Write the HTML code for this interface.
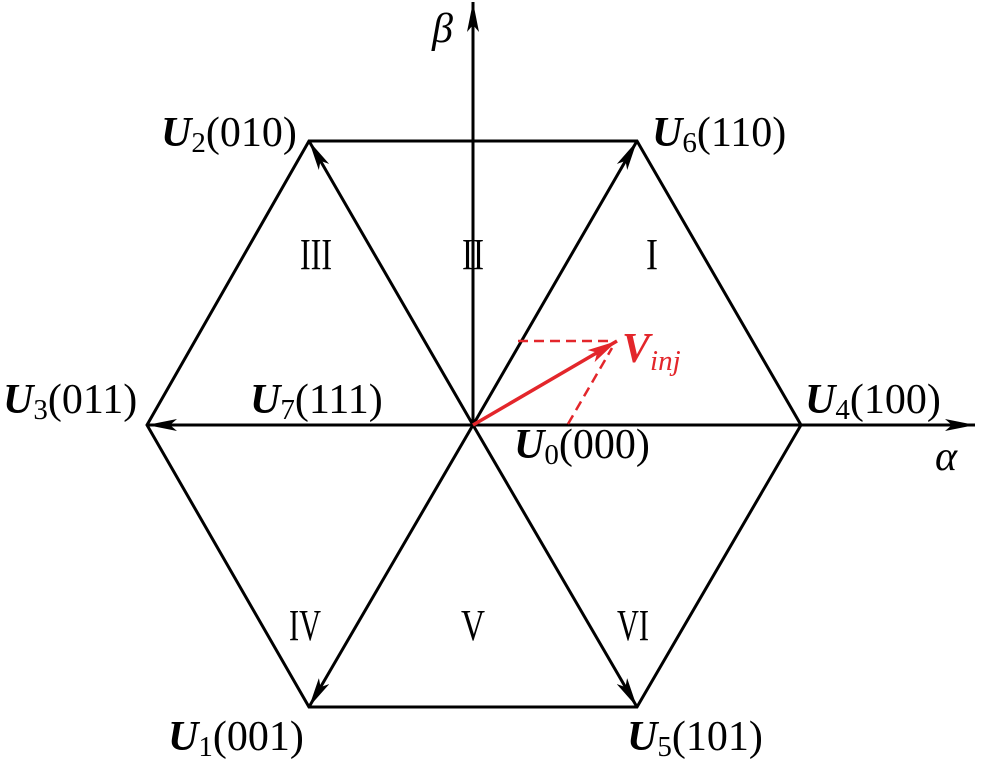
<!DOCTYPE html>
<html><head><meta charset="utf-8"><style>body{margin:0;background:#fff}svg{display:block}text{font-family:"Liberation Serif","Times New Roman",Times,serif}</style></head>
<body>
<svg width="1000" height="768" viewBox="0 0 1000 768" xmlns="http://www.w3.org/2000/svg">
<defs>
<marker id="a" viewBox="0 0 30 12" refX="30" refY="6" markerWidth="30" markerHeight="12" markerUnits="userSpaceOnUse" orient="auto"><path d="M0,0 L30,6 L0,12 L7,6 Z" fill="#000"/></marker>
<marker id="r" viewBox="0 0 30 14" refX="30" refY="7" markerWidth="30" markerHeight="14" markerUnits="userSpaceOnUse" orient="auto"><path d="M0,0 L30,7 L0,14 L7,7 Z" fill="#e3262b"/></marker>
</defs>
<g stroke="#000" stroke-width="3" fill="none">
<polygon points="801,425 637,141 309,141 147,425 309,707 637,707"/>
<line x1="473" y1="425" x2="473" y2="2" marker-end="url(#a)"/>
<line x1="473" y1="425" x2="975" y2="425" marker-end="url(#a)"/>
<line x1="473" y1="425" x2="637" y2="141" marker-end="url(#a)"/>
<line x1="473" y1="425" x2="309" y2="141" marker-end="url(#a)"/>
<line x1="473" y1="425" x2="147" y2="425" marker-end="url(#a)"/>
<line x1="473" y1="425" x2="309" y2="707" marker-end="url(#a)"/>
<line x1="473" y1="425" x2="637" y2="707" marker-end="url(#a)"/>
</g>
<g stroke="#e3262b" stroke-width="2.5" stroke-dasharray="10,6" fill="none">
<line x1="518" y1="341" x2="612" y2="341"/>
<line x1="568" y1="424" x2="612" y2="348"/>
</g>
<line x1="473" y1="425" x2="617" y2="341" stroke="#e3262b" stroke-width="3.5" marker-end="url(#r)"/>
<g font-size="42" fill="#000">
<text x="161" y="146"><tspan font-weight="bold" font-style="italic">U</tspan><tspan font-size="29" dy="6">2</tspan><tspan dy="-6">(010)</tspan></text>
<text x="652" y="146"><tspan font-weight="bold" font-style="italic">U</tspan><tspan font-size="29" dy="6">6</tspan><tspan dy="-6">(110)</tspan></text>
<text x="3" y="413"><tspan font-weight="bold" font-style="italic">U</tspan><tspan font-size="29" dy="6">3</tspan><tspan dy="-6">(011)</tspan></text>
<text x="250" y="413"><tspan font-weight="bold" font-style="italic">U</tspan><tspan font-size="29" dy="6">7</tspan><tspan dy="-6">(111)</tspan></text>
<text x="805" y="413"><tspan font-weight="bold" font-style="italic">U</tspan><tspan font-size="29" dy="6">4</tspan><tspan dy="-6">(100)</tspan></text>
<text x="514" y="458"><tspan font-weight="bold" font-style="italic">U</tspan><tspan font-size="29" dy="6">0</tspan><tspan dy="-6">(000)</tspan></text>
<text x="168" y="750"><tspan font-weight="bold" font-style="italic">U</tspan><tspan font-size="29" dy="6">1</tspan><tspan dy="-6">(001)</tspan></text>
<text x="627" y="750"><tspan font-weight="bold" font-style="italic">U</tspan><tspan font-size="29" dy="6">5</tspan><tspan dy="-6">(101)</tspan></text>
<text x="432" y="42" font-style="italic">β</text>
<text x="935" y="470" font-style="italic">α</text>
</g>
<text x="622" y="362" font-size="42" fill="#e3262b"><tspan font-weight="bold" font-style="italic">V</tspan><tspan font-size="29" font-style="italic" dy="8">inj</tspan></text>
<g font-size="44" fill="#000" text-anchor="middle">
<text x="652" y="269" textLength="12" lengthAdjust="spacingAndGlyphs">I</text>
<text x="473" y="269" textLength="22" lengthAdjust="spacingAndGlyphs">II</text>
<text x="316" y="269" textLength="32" lengthAdjust="spacingAndGlyphs">III</text>
<text x="305" y="640" textLength="32" lengthAdjust="spacingAndGlyphs">IV</text>
<text x="473" y="640" textLength="24" lengthAdjust="spacingAndGlyphs">V</text>
<text x="633" y="640" textLength="32" lengthAdjust="spacingAndGlyphs">VI</text>
</g>
</svg>
</body></html>
